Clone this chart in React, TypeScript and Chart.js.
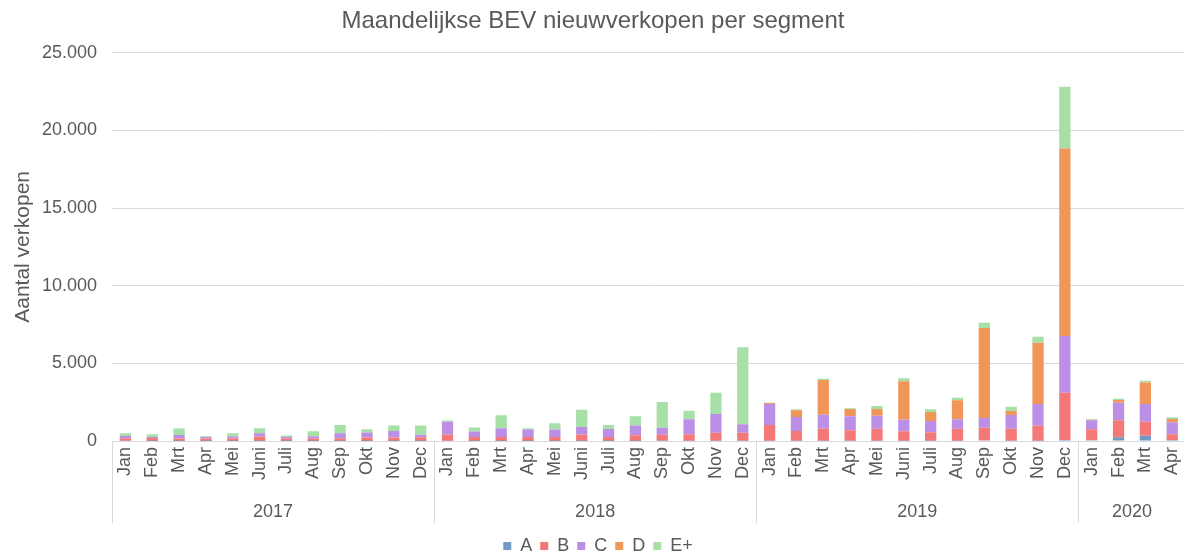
import React, { useEffect, useRef } from "react";
import { Chart, registerables } from "chart.js";

Chart.register(...registerables);

const monthNames = ["Jan", "Feb", "Mrt", "Apr", "Mei", "Juni", "Juli", "Aug", "Sep", "Okt", "Nov", "Dec"];
const categories = [...monthNames, ...monthNames, ...monthNames, "Jan", "Feb", "Mrt", "Apr"];
const yearLabels = ["2017", "2018", "2019", "2020"];
const yearCounts = [12, 12, 12, 4];

const seriesA = [
  10, 5, 5, 5, 5, 5, 5, 5, 5, 5, 5, 5,
  10, 5, 5, 5, 5, 5, 5, 5, 20, 10, 10, 10,
  20, 10, 10, 10, 10, 20, 10, 10, 40, 10, 15, 60,
  50, 235, 345, 65,
];
const seriesB = [
  170, 190, 150, 150, 150, 280, 150, 150, 170, 215, 215, 240,
  410, 260, 260, 260, 260, 410, 260, 365, 390, 420, 525, 525,
  1010, 635, 785, 680, 785, 605, 550, 785, 820, 785, 970, 3050,
  700, 1095, 900, 365,
];
const seriesC = [
  150, 70, 235, 110, 130, 215, 107, 150, 325, 320, 430, 150,
  815, 340, 555, 470, 470, 490, 515, 625, 450, 965, 1205, 540,
  1355, 900, 900, 900, 835, 750, 730, 600, 620, 880, 1395, 3650,
  580, 1140, 1140, 770,
];
const seriesD = [
  0, 0, 0, 0, 0, 0, 0, 0, 0, 0, 0, 0,
  0, 0, 0, 0, 0, 0, 0, 0, 0, 0, 0, 0,
  60, 430, 2235, 470, 430, 2470, 580, 1225, 5795, 255, 3950, 12080,
  40, 170, 1375, 217,
];
const seriesE = [
  175, 170, 410, 40, 215, 320, 90, 320, 535, 215, 345, 600,
  85, 260, 840, 85, 410, 1100, 255, 600, 1650, 560, 1370, 4955,
  25, 65, 85, 45, 195, 195, 170, 170, 345, 280, 385, 3970,
  45, 85, 125, 108,
];

const seriesNames = ["A", "B", "C", "D", "E+"];
const seriesColors = ["#7199c1", "#f47878", "#bb8fe6", "#f19659", "#a6e0a7"];
const yTicks = [0, 5000, 10000, 15000, 20000, 25000];

const FONT = "'Liberation Sans', Arial, sans-serif";
const TEXT = "#595959";
const GRID = "#d9d9d9";

const fmt = (v: number) => String(v).replace(/\B(?=(\d{3})+(?!\d))/g, ".");

const yearPlugin = {
  id: "yearGroups",
  afterLayout(chart: any) {
    const lg = chart.legend;
    if (lg) {
      lg.left += 5;
      lg.right += 5;
    }
  },
  afterDraw(chart: any) {
    const x = chart.scales.x;
    const ctx = chart.ctx;
    const top = chart.chartArea.bottom;
    const lineBottom = 523;
    const half = (x.getPixelForValue(1) - x.getPixelForValue(0)) / 2;
    ctx.save();
    ctx.strokeStyle = GRID;
    ctx.lineWidth = 1;
    ctx.fillStyle = TEXT;
    ctx.font = `18px ${FONT}`;
    ctx.textAlign = "center";
    ctx.textBaseline = "middle";
    let start = 0;
    yearLabels.forEach((label, i) => {
      const left = x.getPixelForValue(start) - half;
      const right = x.getPixelForValue(start + yearCounts[i] - 1) + half;
      ctx.beginPath();
      ctx.moveTo(Math.round(left) + 0.5, top);
      ctx.lineTo(Math.round(left) + 0.5, lineBottom);
      ctx.stroke();
      if (i === yearLabels.length - 1) {
        ctx.beginPath();
        ctx.moveTo(Math.round(right) + 0.5, top);
        ctx.lineTo(Math.round(right) + 0.5, lineBottom);
        ctx.stroke();
      }
      ctx.fillText(label, (left + right) / 2, 512);
      start += yearCounts[i];
    });
    ctx.restore();
  },
};

export default function App() {
  const ref = useRef<HTMLCanvasElement | null>(null);

  useEffect(() => {
    document.body.style.margin = "0";
    const data = [seriesA, seriesB, seriesC, seriesD, seriesE];
    const chart = new Chart(ref.current as HTMLCanvasElement, {
      type: "bar",
      data: {
        labels: categories,
        datasets: seriesNames.map((name, i) => ({
          label: name,
          data: data[i],
          backgroundColor: seriesColors[i],
          borderWidth: 0,
          categoryPercentage: 1,
          barPercentage: 0.42,
        })),
      },
      options: {
        responsive: false,
        animation: false,
        layout: { padding: { left: 0, right: 14, top: 0, bottom: 0 } },
        plugins: {
          title: {
            display: true,
            text: "Maandelijkse BEV nieuwverkopen per segment",
            color: TEXT,
            font: { family: FONT, size: 24, weight: "normal" },
            padding: { top: 7, bottom: 17 },
          },
          legend: {
            position: "bottom",
            labels: {
              color: TEXT,
              font: { family: FONT, size: 18 },
              boxWidth: 8,
              boxHeight: 8,
              padding: 8,
            },
          },
          tooltip: { enabled: false },
        },
        scales: {
          x: {
            stacked: true,
            grid: { display: false, drawTicks: false },
            border: { display: true, color: GRID },
            ticks: {
              autoSkip: false,
              minRotation: 90,
              maxRotation: 90,
              color: TEXT,
              font: { family: FONT, size: 18 },
              padding: 6,
            },
            afterFit: (scale: any) => {
              scale.height = 88;
            },
          },
          y: {
            stacked: true,
            min: 0,
            max: 25000,
            afterBuildTicks: (scale: any) => {
              scale.ticks = yTicks.map((v) => ({ value: v }));
            },
            grid: { color: GRID, drawTicks: false },
            border: { display: false },
            ticks: {
              color: TEXT,
              font: { family: FONT, size: 18 },
              padding: 15,
              callback: (v: any) => fmt(Number(v)),
            },
            title: {
              display: true,
              text: "Aantal verkopen",
              color: TEXT,
              font: { family: FONT, size: 21 },
              padding: { top: 11, bottom: 0 },
            },
            afterFit: (scale: any) => {
              scale.width = 112;
            },
          },
        },
      },
      plugins: [yearPlugin],
    });
    return () => chart.destroy();
  }, []);

  return (
    <div style={{ width: 1184, height: 559, overflow: "hidden", position: "relative" }}>
      <canvas ref={ref} width={1200} height={565} style={{ display: "block" }} />
    </div>
  );
}
